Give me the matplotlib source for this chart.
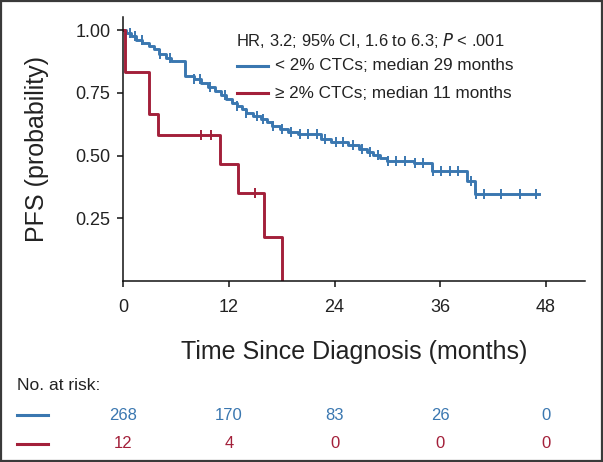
import numpy as np
import matplotlib
matplotlib.use("Agg")
import matplotlib.pyplot as plt
from matplotlib.lines import Line2D
from matplotlib.patches import Rectangle

plt.rcParams['font.family'] = ['Liberation Sans', 'DejaVu Sans']

# ---- data ----
blue_times = [0, 0.3, 0.9, 1.5, 2.2, 2.9, 3.5, 4.1, 4.9, 5.5, 7.0, 8.0, 8.9, 9.6, 10.4,
              11.1, 11.7, 12.4, 12.9, 13.5, 14.0, 14.8, 15.6, 16.3, 16.9, 17.8, 18.7,
              19.8, 22.5, 23.6, 25.5, 26.8, 27.7, 28.4, 29.2, 30.0, 33.0, 35.0, 39.0, 39.9, 47.2]
blue_surv = [1.0, 0.988, 0.975, 0.962, 0.950, 0.937, 0.923, 0.905, 0.890, 0.877, 0.817, 0.804,
             0.790, 0.775, 0.758, 0.742, 0.725, 0.710, 0.698, 0.685, 0.670, 0.658, 0.645,
             0.632, 0.619, 0.606, 0.592, 0.586, 0.566, 0.553, 0.540, 0.526, 0.514, 0.503,
             0.492, 0.480, 0.470, 0.438, 0.400, 0.345, 0.345]
blue_censor = [0.8, 1.4, 2.1, 4.2, 5.3, 8.0, 8.7, 9.9, 11.6, 12.9, 14.0, 15.2, 15.9, 17.0,
               18.0, 19.1, 20.1, 21.0, 22.0, 22.9, 24.2, 25.0, 26.1, 27.1, 28.0, 28.9, 30.1,
               31.0, 32.0, 33.1, 34.0, 35.2, 36.1, 37.1, 38.0, 39.5, 40.1, 41.0, 42.9, 45.0, 46.9]

red_times = [0, 0.2, 3.0, 4.0, 11.0, 13.0, 16.0, 18.0]
red_surv = [1.0, 0.833, 0.667, 0.583, 0.467, 0.350, 0.175, 0.0]
red_censor = [8.9, 10.0, 15.0]

xticks = [0, 12, 24, 36, 48]
yticks = [0.25, 0.50, 0.75, 1.00]
risk_blue = [268, 170, 83, 26, 0]
risk_red = [12, 4, 0, 0, 0]

hr_text = "HR, 3.2; 95% CI, 1.6 to 6.3; $\\it{P}$ < .001"
label_blue = "< 2% CTCs; median 29 months"
label_red = "\u2265 2% CTCs; median 11 months"

BLUE = "#3a77b0"
RED = "#a3203a"
TXT = "#222222"

fig = plt.figure(figsize=(6.03, 4.62), dpi=100)
ax = fig.add_axes([0.204, 0.392, 0.766, 0.571])


def step_value(times, surv, t):
    idx = np.searchsorted(times, t, side='right') - 1
    return np.asarray(surv)[idx]


ax.step(blue_times, blue_surv, where='post', color=BLUE, lw=2.1)
ax.plot(blue_censor, step_value(blue_times, blue_surv, blue_censor), ls='none',
        marker='|', ms=7, mew=1.4, color=BLUE)
ax.step(red_times, red_surv, where='post', color=RED, lw=2.1)
ax.plot(red_censor, step_value(red_times, red_surv, red_censor), ls='none',
        marker='|', ms=7, mew=1.4, color=RED)

ax.set_xlim(0, 52.4)
ax.set_ylim(0, 1.052)
ax.set_xticks(xticks)
ax.set_xticklabels([str(x) for x in xticks])
ax.set_yticks(yticks)
ax.set_yticklabels([f"{y:.2f}" for y in yticks])
for s in ['top', 'right']:
    ax.spines[s].set_visible(False)
for s in ['left', 'bottom']:
    ax.spines[s].set_linewidth(1.1)
    ax.spines[s].set_color('#111111')
ax.tick_params(axis='both', direction='out', length=4, width=1.1, labelsize=13,
               colors='#111111', labelcolor=TXT, pad=5)
ax.tick_params(axis='x', pad=9)
ax.set_xlabel("Time Since Diagnosis (months)", fontsize=18, labelpad=17, color=TXT)
ax.set_ylabel("PFS (probability)", fontsize=18, labelpad=19, color=TXT)

# legend (manual)
W, H = 603.0, 462.0
def fx(px):
    return px / W
def fy(py):
    return 1 - py / H

fig.text(fx(236), fy(40), hr_text, fontsize=11.9, va='center', ha='left', color=TXT)
fig.add_artist(Line2D([fx(237), fx(268)], [fy(66), fy(66)], color=BLUE, lw=2.2))
fig.text(fx(275), fy(66), label_blue, fontsize=12.3, va='center', ha='left', color=TXT)
fig.add_artist(Line2D([fx(237), fx(268)], [fy(93), fy(93)], color=RED, lw=2.2))
fig.text(fx(275), fy(93), label_red, fontsize=12.3, va='center', ha='left', color=TXT)

# risk table
tab = fig.add_axes([0.204, 0.0, 0.766, 0.2])
tab.set_xlim(ax.get_xlim())
tab.set_ylim(0, 1)
tab.axis('off')
tab_tr = matplotlib.transforms.blended_transform_factory(tab.transData, fig.transFigure)
fig.text(fx(17), fy(386), "No. at risk:", fontsize=12.5, va='center', ha='left', color=TXT)
fig.add_artist(Line2D([fx(17), fx(48)], [fy(415), fy(415)], color=BLUE, lw=2.2))
fig.add_artist(Line2D([fx(17), fx(48)], [fy(444), fy(444)], color=RED, lw=2.2))
for x, nb, nr in zip(xticks, risk_blue, risk_red):
    tab.text(x, fy(415), str(nb), transform=tab_tr, ha='center', va='center',
             fontsize=12, color=BLUE)
    tab.text(x, fy(444), str(nr), transform=tab_tr, ha='center', va='center',
             fontsize=12, color=RED)

# figure frame
fig.patches.append(Rectangle((0.0015, 0.002), 0.997, 0.996, transform=fig.transFigure,
                             fill=False, edgecolor='#3a3a3a', lw=1.6))

fig.savefig("out.png", dpi=100)
